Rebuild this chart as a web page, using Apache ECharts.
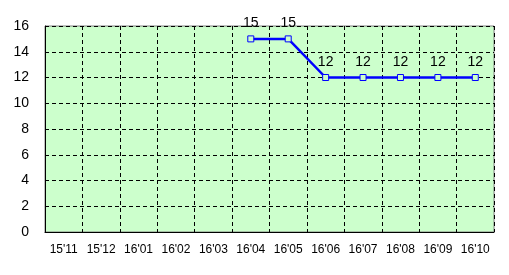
<!DOCTYPE html>
<html><head><meta charset="utf-8">
<script src="https://cdn.jsdelivr.net/npm/echarts@6/dist/echarts.min.js"></script>
<style>html,body{margin:0;padding:0;background:#fff}#c{width:509px;height:275px}</style>
</head><body><div id="c"></div>
<script>
const categories = ["15'11","15'12","16'01","16'02","16'03","16'04","16'05","16'06","16'07","16'08","16'09","16'10"];
const values = [null,null,null,null,null,15,15,12,12,12,12,12];
const yTicks = [0,2,4,6,8,10,12,14,16];

const chart = echarts.init(document.getElementById('c'), null, {renderer:'canvas'});
chart.setOption({
  animation:false,
  grid:{left:45,right:15,top:26,bottom:43,show:true,backgroundColor:'#ccffcc',borderColor:'#808080',borderWidth:1},
  xAxis:{type:'category',data:categories,boundaryGap:true,
    axisLine:{lineStyle:{color:'#000',width:1}},axisTick:{show:false},
    axisLabel:{color:'#000',fontSize:12,fontFamily:'Liberation Sans, Arial, sans-serif',margin:12,interval:0},
    splitLine:{show:true,lineStyle:{color:'#000',type:[4,3],width:1}}},
  yAxis:{type:'value',min:yTicks[0],max:yTicks[yTicks.length-1],interval:2,
    axisLine:{show:true,lineStyle:{color:'#000',width:1}},axisTick:{show:false},
    axisLabel:{color:'#000',fontSize:14,fontFamily:'Liberation Sans, Arial, sans-serif',margin:16},
    splitLine:{show:true,lineStyle:{color:'#000',type:[4,3],width:1}}},
  series:[{type:'line',data:values,connectNulls:false,symbol:'rect',symbolSize:6,showAllSymbol:true,
    lineStyle:{color:'#0000ff',width:2.5},
    itemStyle:{color:'#ccffcc',borderColor:'#0000ff',borderWidth:1},
    label:{show:true,position:'top',distance:5,color:'#000',fontSize:14,fontFamily:'Liberation Sans, Arial, sans-serif'}}]
});
</script></body></html>
